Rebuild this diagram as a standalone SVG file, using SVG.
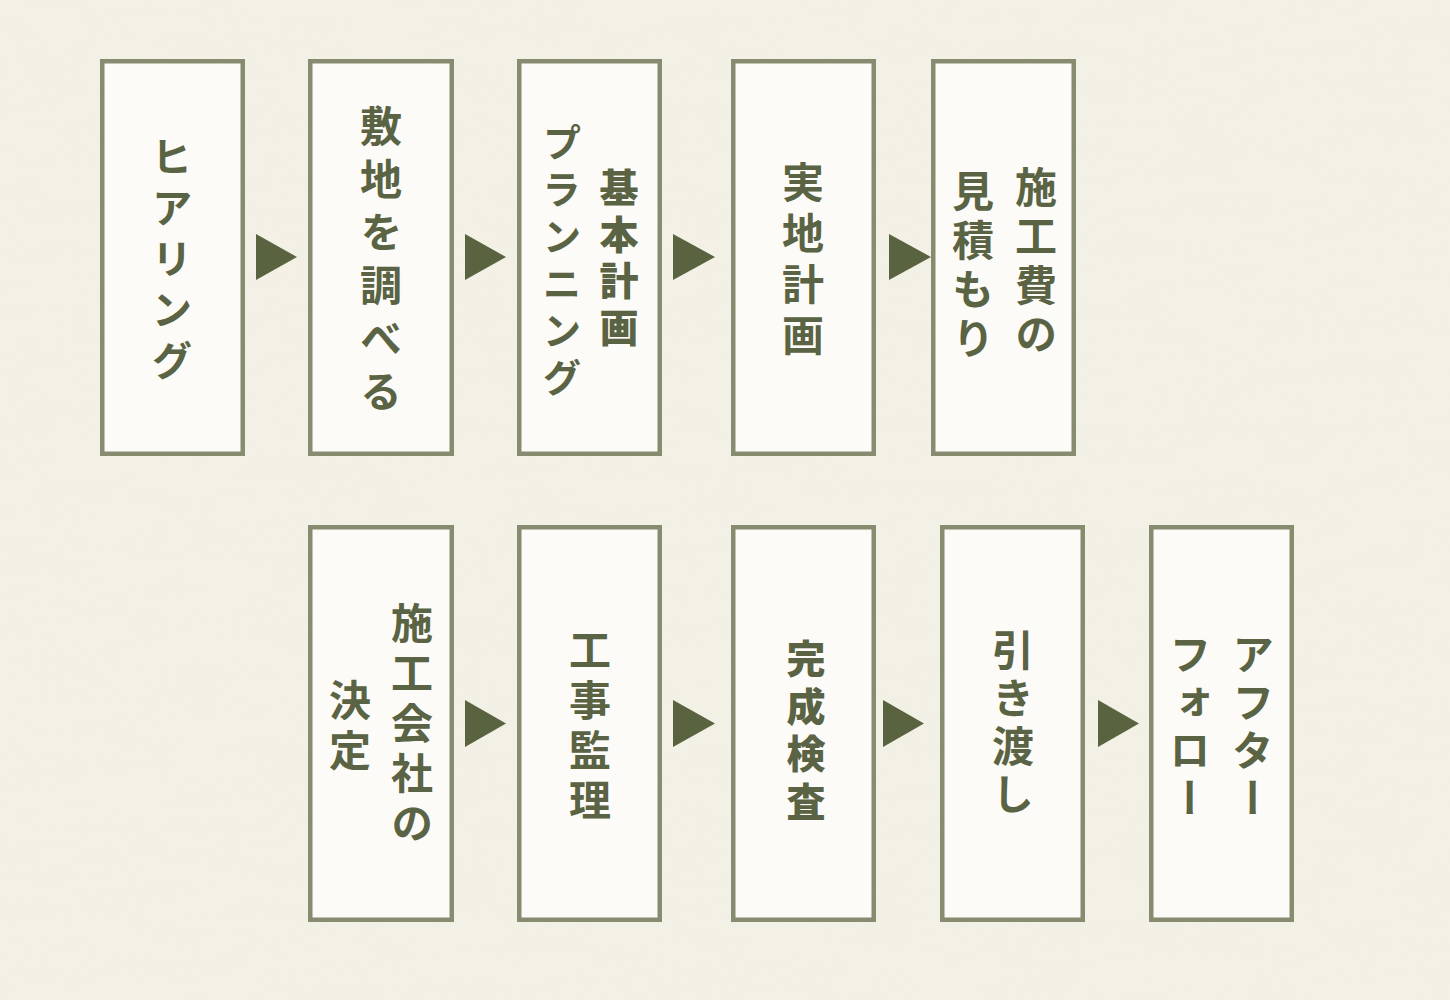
<svg xmlns="http://www.w3.org/2000/svg" width="1450" height="1000" viewBox="0 0 1450 1000">
<defs>
<style>
.box{fill:#fcfbf7;stroke:#878c71;stroke-width:4.5}
.arrow{fill:#5a6340}
.t{font-family:"Noto Sans CJK JP","Noto Sans",sans-serif;fill:#5a6343;writing-mode:vertical-rl;text-anchor:middle;font-weight:700}
.m{font-weight:700}
.k{font-weight:900}
</style>
<filter id="paper" x="0" y="0" width="100%" height="100%">
<feTurbulence type="fractalNoise" baseFrequency="0.012 0.05" numOctaves="3" seed="7"/>
<feColorMatrix type="matrix" values="0 0 0 0 0.85  0 0 0 0 0.82  0 0 0 0 0.74  0 0 0 0.35 -0.1"/>
</filter>
</defs>
<rect width="1450" height="1000" fill="#f3f0e5"/>
<rect width="1450" height="1000" filter="url(#paper)" opacity="0.35"/>

<g id="connectors">
<polygon class="arrow" points="256,234 297,257 256,280"/>
<polygon class="arrow" points="465,234 506,257 465,280"/>
<polygon class="arrow" points="673,234 715,257 673,280"/>
<polygon class="arrow" points="889,234 931,257 889,280"/>
<polygon class="arrow" points="465,700 506,723.5 465,747"/>
<polygon class="arrow" points="673,700 715,723.5 673,747"/>
<polygon class="arrow" points="883,700 924,723.5 883,747"/>
<polygon class="arrow" points="1098,700 1139,723.5 1098,747"/>
</g>

<g id="n1">
<rect class="box" x="102.25" y="61.25" width="140.5" height="392.5"/>
<text class="t" x="172" y="263" font-size="41" letter-spacing="10">ヒアリング</text>
</g>
<g id="n2">
<rect class="box" x="310.25" y="61.25" width="141.5" height="392.5"/>
<text class="t" x="381" y="264" font-size="42" letter-spacing="11">敷地を調べる</text>
</g>
<g id="n3">
<rect class="box" x="519.25" y="61.25" width="140.5" height="392.5"/>
<text class="t k" x="619" y="261" font-size="39" letter-spacing="7.5">基本計画</text>
<text class="t" x="562" y="264" font-size="39" letter-spacing="8">プランニング</text>
</g>
<g id="n4">
<rect class="box" x="733.25" y="61.25" width="140.5" height="392.5"/>
<text class="t" x="803" y="263" font-size="42" letter-spacing="9">実地計画</text>
</g>
<g id="n5">
<rect class="box" x="933.25" y="61.25" width="140.5" height="392.5"/>
<text class="t" x="1036" y="264" font-size="42" letter-spacing="7">施工費の</text>
<text class="t" x="973" y="268" font-size="42" letter-spacing="7">見積もり</text>
</g>

<g id="n6">
<rect class="box" x="310.25" y="527.25" width="141.5" height="392.5"/>
<text class="t m" x="412" y="727" font-size="42" letter-spacing="8">施工会社の</text>
<text class="t m" x="350" y="729" font-size="42" letter-spacing="8">決定</text>
</g>
<g id="n7">
<rect class="box" x="519.25" y="527.25" width="140.5" height="392.5"/>
<text class="t m" x="590" y="729" font-size="42" letter-spacing="8">工事監理</text>
</g>
<g id="n8">
<rect class="box" x="733.25" y="527.25" width="140.5" height="392.5"/>
<text class="t k" x="806" y="734" font-size="39" letter-spacing="8.5">完成検査</text>
</g>
<g id="n9">
<rect class="box" x="942.25" y="527.25" width="140.5" height="392.5"/>
<text class="t m" x="1013" y="725" font-size="42" letter-spacing="6">引き渡し</text>
</g>
<g id="n10">
<rect class="box" x="1151.25" y="527.25" width="140.5" height="392.5"/>
<text class="t m" x="1253" y="729" font-size="42" letter-spacing="6">アフター</text>
<text class="t m" x="1190" y="729" font-size="42" letter-spacing="6">フォロー</text>
</g>
</svg>
